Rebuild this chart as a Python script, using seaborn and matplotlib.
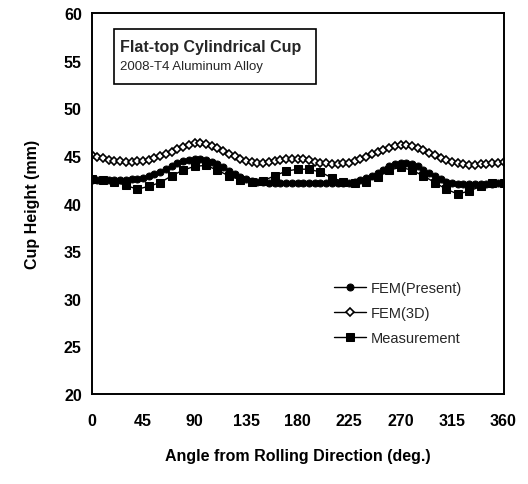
import numpy as np
import pandas as pd
import matplotlib
matplotlib.use("Agg")
import matplotlib.pyplot as plt
import seaborn as sns
from matplotlib.patches import Rectangle

# ---- data ----
angle_fem = list(range(0, 361, 5))
fem_present = [42.5, 42.5, 42.5, 42.5, 42.5, 42.5, 42.5, 42.55, 42.6, 42.7,
               42.85, 43.05, 43.3, 43.6, 43.9, 44.2, 44.45, 44.6, 44.7, 44.7,
               44.6, 44.4, 44.1, 43.8, 43.45, 43.1, 42.8, 42.55, 42.4, 42.3,
               42.25, 42.2, 42.2, 42.2, 42.2, 42.2, 42.2, 42.2, 42.2, 42.2,
               42.2, 42.2, 42.2, 42.2, 42.2, 42.2, 42.3, 42.45, 42.65, 42.9,
               43.2, 43.55, 43.9, 44.15, 44.3, 44.3, 44.15, 43.9, 43.55, 43.2,
               42.85, 42.55, 42.3, 42.15, 42.05, 42.0, 42.0, 42.0, 42.0, 42.05,
               42.05, 42.1, 42.1]
fem_3d = [45.1, 44.9, 44.75, 44.6, 44.5, 44.45, 44.4, 44.4, 44.45, 44.5,
          44.6, 44.75, 44.95, 45.2, 45.45, 45.7, 45.95, 46.15, 46.3, 46.35,
          46.25, 46.05, 45.8, 45.5, 45.2, 44.95, 44.7, 44.5, 44.4, 44.3,
          44.3, 44.35, 44.45, 44.55, 44.65, 44.7, 44.7, 44.65, 44.55, 44.4,
          44.3, 44.2, 44.15, 44.15, 44.2, 44.3, 44.45, 44.65, 44.9, 45.15,
          45.4, 45.65, 45.85, 46.0, 46.1, 46.1, 46.0, 45.85, 45.6, 45.35,
          45.05, 44.8, 44.55, 44.35, 44.2, 44.1, 44.05, 44.05, 44.1, 44.15,
          44.2, 44.3, 44.4]
angle_meas = list(range(0, 361, 10))
measurement = [42.6, 42.5, 42.3, 41.9, 41.5, 41.8, 42.2, 42.9, 43.5, 43.9,
               44.0, 43.5, 42.9, 42.5, 42.3, 42.4, 42.9, 43.4, 43.6, 43.6,
               43.3, 42.7, 42.3, 42.2, 42.3, 42.8, 43.5, 43.8, 43.5, 42.9,
               42.2, 41.5, 41.0, 41.3, 41.8, 42.1, 42.2]
x_ticks = [0, 45, 90, 135, 180, 225, 270, 315, 360]
y_ticks = [20, 25, 30, 35, 40, 45, 50, 55, 60]

sns.set_theme(style="white")
plt.rcParams['font.family'] = ['Liberation Sans', 'DejaVu Sans']

fig = plt.figure(figsize=(5.28, 4.85), dpi=100)
ax = fig.add_axes([0.1733, 0.1856, 0.7803, 0.7855])

df_p = pd.DataFrame({"angle": angle_fem, "h": fem_present})
df_3 = pd.DataFrame({"angle": angle_fem, "h": fem_3d})
df_m = pd.DataFrame({"angle": angle_meas, "h": measurement})

sns.lineplot(data=df_p, x="angle", y="h", ax=ax, color="black", lw=1.0,
             marker="o", markersize=5, markerfacecolor="black",
             markeredgecolor="black", label="FEM(Present)")
sns.lineplot(data=df_3, x="angle", y="h", ax=ax, color="black", lw=1.0,
             marker="D", markersize=4.5, markerfacecolor="white",
             markeredgecolor="black", markeredgewidth=1.2, label="FEM(3D)")
sns.lineplot(data=df_m, x="angle", y="h", ax=ax, color="black", lw=1.0,
             marker="s", markersize=5.5, markerfacecolor="black",
             markeredgecolor="black", label="Measurement")

ax.set_xlim(0, 360)
ax.set_ylim(20, 60)
ax.set_xticks(x_ticks)
ax.set_yticks(y_ticks)
ax.tick_params(axis="x", direction="in", length=4, width=1, pad=14,
               labelsize=11.5, colors="black")
ax.tick_params(axis="y", direction="in", length=0, width=1, pad=7,
               labelsize=11.5, colors="black")
for lab in ax.get_xticklabels() + ax.get_yticklabels():
    lab.set_fontweight("bold")
for s in ax.spines.values():
    s.set_color("black")
    s.set_linewidth(1.4)

ax.set_xlabel("Angle from Rolling Direction (deg.)", fontsize=11.5,
              fontweight="bold", labelpad=14, color="black")
ax.set_ylabel("Cup Height (mm)", fontsize=11.5, fontweight="bold",
              labelpad=17, color="black")

leg = ax.legend(loc="upper left", bbox_to_anchor=(0.574, 0.312), frameon=False,
                fontsize=10.5, handlelength=2.2, handletextpad=0.3,
                labelspacing=0.75, borderaxespad=0)

# title box
ax.add_patch(Rectangle((0.055, 0.814), 0.49, 0.144, transform=ax.transAxes,
                       fill=False, edgecolor="black", lw=1.2))
ax.text(0.07, 0.913, "Flat-top Cylindrical Cup", transform=ax.transAxes,
        fontsize=11.5, fontweight="bold", va="center", ha="left")
ax.text(0.07, 0.861, "2008-T4 Aluminum Alloy", transform=ax.transAxes,
        fontsize=9.5, va="center", ha="left")

fig.savefig("out.png", dpi=100, facecolor="white")
